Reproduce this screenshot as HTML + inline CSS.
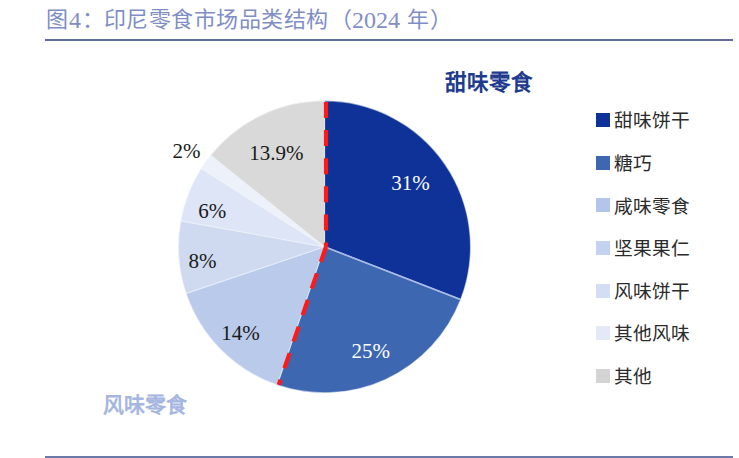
<!DOCTYPE html>
<html lang="zh-CN"><head><meta charset="utf-8"><style>
html,body{margin:0;padding:0;background:#fff;width:739px;height:458px;overflow:hidden;position:relative;font-family:"Liberation Serif",serif}
.title{position:absolute;top:5px;font-size:22px;color:#7f8ec5;white-space:nowrap;line-height:30px}
.d{font-size:24px}
.rule{position:absolute;left:45px;width:688px;height:2px;background:#5d6b9c}
svg{position:absolute;left:0;top:0}
.sq{position:absolute;left:596px;width:14px;height:14px}
.lt{position:absolute;left:614.3px;font-size:18.7px;line-height:21px;color:#2b2b2b;white-space:nowrap}
.pl{position:absolute;font-size:21px;line-height:16px;white-space:nowrap}
.bl{position:absolute;font-size:21.5px;font-weight:bold;white-space:nowrap;line-height:24px}
</style></head><body>
<div class="title" style="left:46px">图</div><div class="title d" style="left:69px">4</div><div class="title" style="left:81.5px;letter-spacing:0.47px">：印尼零食市场品类结构</div><div class="title" style="left:329.5px">（</div><div class="title d" style="left:352px">2024</div><div class="title" style="left:406.6px">年</div><div class="title" style="left:430px">）</div>
<div class="rule" style="top:39px;background:#626c98"></div>
<svg width="739" height="458" viewBox="0 0 739 458">
<g stroke="#f2f5fc" stroke-width="1.2" stroke-opacity="0.5">
<path d="M324.5 246.8L324.50 100.80A146 146 0 0 1 460.62 299.60Z" fill="#0e3298"/><path d="M324.5 246.8L460.62 299.60A146 146 0 0 1 277.21 384.93Z" fill="#3d67b1"/><path d="M324.5 246.8L277.21 384.93A146 146 0 0 1 186.13 293.37Z" fill="#b9caea"/><path d="M324.5 246.8L186.13 293.37A146 146 0 0 1 180.81 220.95Z" fill="#cfdaf1"/><path d="M324.5 246.8L180.81 220.95A146 146 0 0 1 201.23 168.57Z" fill="#dde5f6"/><path d="M324.5 246.8L201.23 168.57A146 146 0 0 1 210.72 155.32Z" fill="#edf1fa"/><path d="M324.5 246.8L210.72 155.32A146 146 0 0 1 324.50 100.80Z" fill="#d9d9d9"/>
</g>
<path d="M324.5 246.8L460.62 299.60" stroke="#a7bbe6" stroke-width="1.6"/><g fill="none" stroke="#ff1a1a" stroke-width="4.2" stroke-dasharray="16 12.1"><path d="M326.0 102L326.0 246.8"/><path d="M326.0 246.8L278.71 384.93"/></g>
</svg>
<div class="pl" style="left:391.2px;top:174.8px;color:#fff">31%</div>
<div class="pl" style="left:351.6px;top:342.6px;color:#fff">25%</div>
<div class="pl" style="left:221.2px;top:324.9px;color:#1a1a1a">14%</div>
<div class="pl" style="left:188.6px;top:253.1px;color:#1a1a1a">8%</div>
<div class="pl" style="left:198.2px;top:203px;color:#1a1a1a">6%</div>
<div class="pl" style="left:172.4px;top:143px;color:#1a1a1a">2%</div>
<div class="pl" style="left:249.2px;top:144.6px;color:#1a1a1a">13.9%</div>

<div class="bl" style="left:445px;top:70.5px;color:#1e3b8e">甜味零食</div>
<div class="bl" style="left:102.5px;top:392.8px;color:#a6b6e0;font-size:21px">风味零食</div>
<div class="sq" style="top:113.2px;background:#0e3298"></div><div class="lt" style="top:110.4px">甜味饼干</div>
<div class="sq" style="top:155.8px;background:#3d67b1"></div><div class="lt" style="top:153.0px">糖巧</div>
<div class="sq" style="top:198.4px;background:#b3c5ea"></div><div class="lt" style="top:195.6px">咸味零食</div>
<div class="sq" style="top:241.0px;background:#c3d2ef"></div><div class="lt" style="top:238.2px">坚果果仁</div>
<div class="sq" style="top:283.6px;background:#d3def5"></div><div class="lt" style="top:280.8px">风味饼干</div>
<div class="sq" style="top:326.2px;background:#e3e9f7"></div><div class="lt" style="top:323.4px">其他风味</div>
<div class="sq" style="top:368.8px;background:#d4d4d4"></div><div class="lt" style="top:366.0px">其他</div>

<div class="rule" style="top:456px;background:#6a79a7"></div>
</body></html>
